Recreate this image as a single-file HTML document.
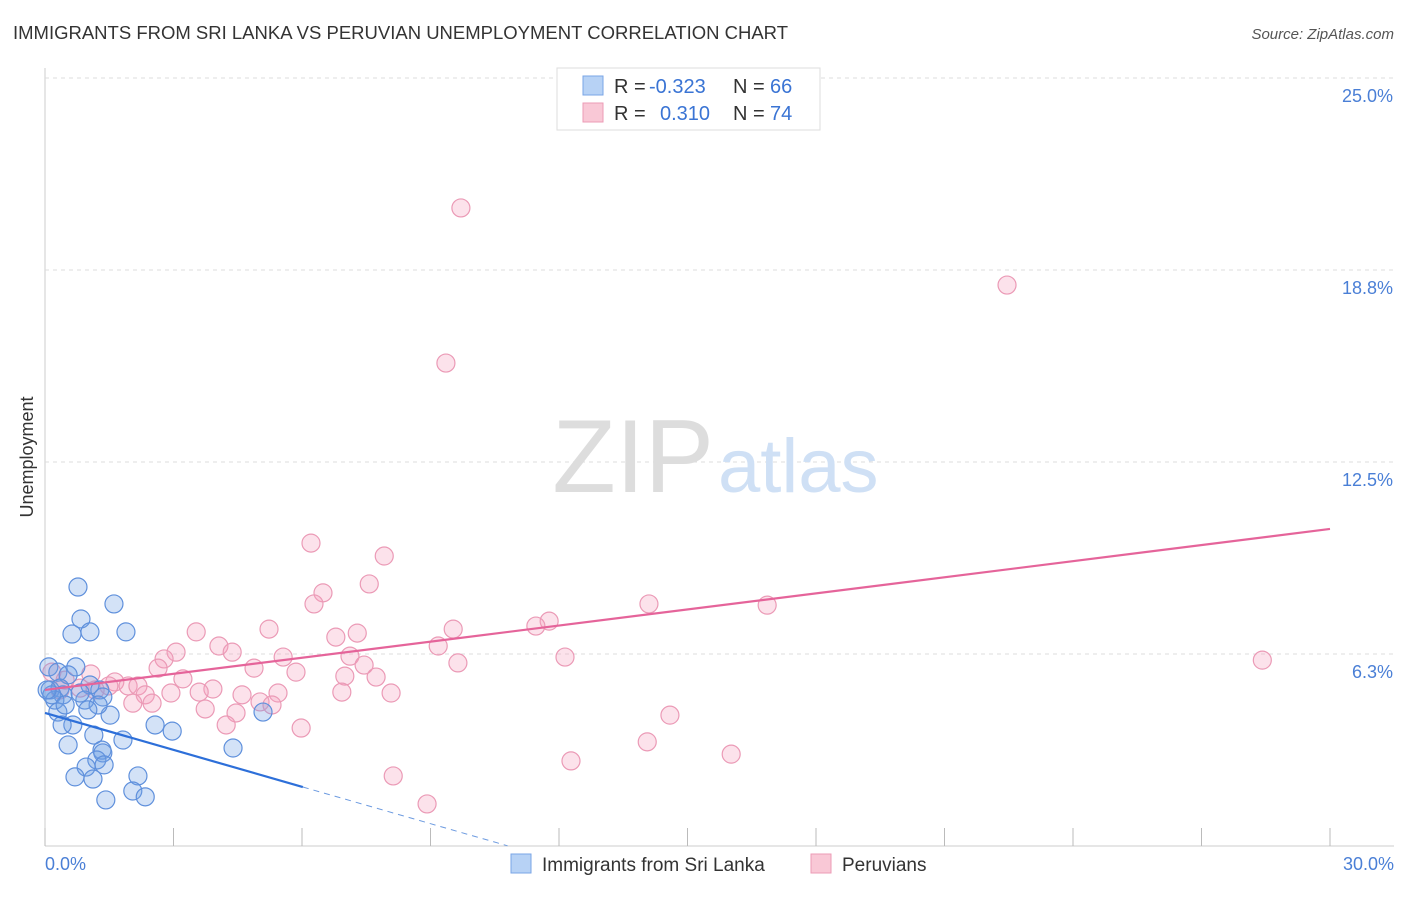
<!DOCTYPE html>
<html><head><meta charset="utf-8"><style>
body{margin:0;background:#fff;font-family:"Liberation Sans",sans-serif}
svg text{font-family:"Liberation Sans",sans-serif}
</style></head><body>
<svg width="1406" height="892" xmlns="http://www.w3.org/2000/svg">
<text x="13" y="39" font-size="18.5" fill="#333" textLength="775" lengthAdjust="spacingAndGlyphs">IMMIGRANTS FROM SRI LANKA VS PERUVIAN UNEMPLOYMENT CORRELATION CHART</text>
<text x="1394" y="39" font-size="15" fill="#555" text-anchor="end" font-style="italic">Source: ZipAtlas.com</text>
<g id="grid"></g>
<text x="714" y="492" font-size="104" fill="#ddd" text-anchor="end" font-family="Liberation Serif">ZIP</text>
<text x="718" y="492" font-size="76" fill="#cfe0f5">atlas</text>
<g id="pts"></g>
<g id="lines"></g>
<text transform="translate(33,457) rotate(-90)" font-size="18" fill="#333" text-anchor="middle">Unemployment</text>
<text x="45" y="870" font-size="18" fill="#4a7fd6">0.0%</text>
<text x="1394" y="870" font-size="18" fill="#4a7fd6" text-anchor="end">30.0%</text>
<g>
<rect x="557" y="68" width="263" height="62" fill="#fff" stroke="#ddd"/>
<rect x="583" y="76" width="20" height="19" fill="#b7d2f5" stroke="#7aa5e6"/>
<rect x="583" y="103" width="20" height="19" fill="#f9c8d6" stroke="#ec9bb6"/>
<text x="614" y="93" font-size="20" fill="#333">R = <tspan x="649" fill="#3a74d4">-0.323</tspan><tspan x="733">N = </tspan><tspan x="770" fill="#3a74d4">66</tspan></text>
<text x="614" y="120" font-size="20" fill="#333">R = <tspan x="660" fill="#3a74d4">0.310</tspan><tspan x="733">N = </tspan><tspan x="770" fill="#3a74d4">74</tspan></text>
</g>
<g>
<rect x="511" y="854" width="20" height="19" fill="#b7d2f5" stroke="#7aa5e6"/>
<text x="542" y="871" font-size="19" fill="#333">Immigrants from Sri Lanka</text>
<rect x="811" y="854" width="20" height="19" fill="#f9c8d6" stroke="#ec9bb6"/>
<text x="842" y="871" font-size="19" fill="#333">Peruvians</text>
</g>
</svg>
<script>
const yTicks=[6.25,12.5,18.75,25];
const yTickLabels=["6.3%","12.5%","18.8%","25.0%"];
const xTicks=[0,3,6,9,12,15,18,21,24,27,30];
const blueX=[0.77,1.61,0.84,0.63,1.05,1.89,0.09,0.72,0.30,0.54,0.12,0.35,0.42,1.05,1.28,0.23,0.93,1.35,1.52,0.30,0.65,0.40,1.14,1.82,0.54,2.57,2.97,4.39,5.09,1.33,1.35,1.21,0.96,1.38,0.70,1.12,2.17,2.05,2.34,1.42,0.16,0.05,0.47,0.82,1.24,1.00];
const blueY=[8.43,7.88,7.39,6.90,6.97,6.97,5.83,5.83,5.66,5.57,5.08,5.14,4.92,5.24,5.08,4.75,4.75,4.85,4.26,4.36,3.94,3.94,3.61,3.45,3.29,3.94,3.74,3.19,4.36,3.12,3.03,2.80,2.57,2.64,2.25,2.18,2.28,1.79,1.60,1.50,4.92,5.08,4.59,4.98,4.59,4.43];
const pinkX=[9.71,22.46,9.36,6.21,7.92,6.49,7.57,6.28,11.77,11.46,14.10,16.86,9.53,3.53,5.23,6.79,7.29,4.06,3.06,4.37,9.18,2.78,7.12,7.45,2.64,5.56,4.88,5.86,12.14,9.64,28.42,7.00,7.73,1.07,1.63,1.94,2.17,3.22,1.49,3.92,3.60,2.34,2.94,4.60,5.44,6.93,8.08,2.50,2.05,3.74,4.46,5.02,5.30,4.23,5.98,14.59,14.06,16.02,12.28,8.13,8.92,0.16,0.47,0.82,1.17,0.35];
const pinkY=[20.77,18.26,15.72,9.86,9.44,8.24,8.53,7.88,7.32,7.16,7.88,7.84,7.06,6.97,7.06,6.80,6.93,6.51,6.31,6.31,6.51,6.09,6.18,5.89,5.79,6.15,5.79,5.66,6.15,5.96,6.05,5.53,5.50,5.60,5.34,5.21,5.21,5.44,5.21,5.11,5.01,4.92,4.98,4.92,4.98,5.01,4.98,4.65,4.65,4.46,4.33,4.69,4.59,3.94,3.84,4.26,3.39,2.99,2.77,2.28,1.37,5.66,5.40,5.14,5.08,5.08];
const pinkTrend=[5.08,10.32];
const blueTrend=[4.33,1.92];
const blueTrendEnd=[6.02,10.8];
const X=v=>45+v/30*1285, Y=v=>846-v*30.72;
const NS="http://www.w3.org/2000/svg";
function mk(t,a,p){const e=document.createElementNS(NS,t);for(const k in a)e.setAttribute(k,a[k]);p.appendChild(e);return e;}
const grid=document.getElementById('grid');
mk('line',{x1:45,y1:68,x2:45,y2:846,stroke:'#ccc'},grid);
mk('line',{x1:45,y1:846,x2:1394,y2:846,stroke:'#ccc'},grid);
yTicks.forEach((t,i)=>{
 const l=mk('line',{x1:45,y1:Y(t),x2:1394,y2:Y(t),stroke:'#ddd','stroke-dasharray':'4,4'},grid);
 
 
 const tx=mk('text',{x:1393,y:Y(t)+24,'font-size':18,fill:'#4a7fd6','text-anchor':'end'},grid);
 tx.textContent=yTickLabels[i];
 
 
});
xTicks.forEach(t=>{
 const l=mk('line',{x1:X(t),y1:828,x2:X(t),y2:846,stroke:'#bbb'},grid);
 
 
});
const pts=document.getElementById('pts');
pinkX.forEach((x,i)=>{
 const c=mk('circle',{cx:X(x),cy:Y(pinkY[i]),r:9,fill:'rgba(244,160,188,0.3)',stroke:'#eb9ab6','stroke-width':1.2},pts);
 
 
});
blueX.forEach((x,i)=>{
 const c=mk('circle',{cx:X(x),cy:Y(blueY[i]),r:9,fill:'rgba(110,160,230,0.3)',stroke:'#5f90dc','stroke-width':1.2},pts);
 
 
});
const ln=document.getElementById('lines');
const pl=mk('line',{x1:X(0),y1:Y(pinkTrend[0]),x2:X(30),y2:Y(pinkTrend[1]),stroke:'#e5649a','stroke-width':2.2},ln);


const slope=(blueTrend[1]-blueTrend[0])/blueTrendEnd[0];
const bl=mk('line',{x1:X(0),y1:Y(blueTrend[0]),x2:X(blueTrendEnd[0]),y2:Y(blueTrend[1]),stroke:'#2d6fd9','stroke-width':2.2},ln);


const endY=Math.max(0,blueTrend[0]+slope*blueTrendEnd[1]);
const bd=mk('line',{x1:X(blueTrendEnd[0]),y1:Y(blueTrend[1]),x2:X(blueTrendEnd[1]),y2:Y(endY),stroke:'#6d9be0','stroke-width':1,'stroke-dasharray':'6,5'},ln);


</script>
</body></html>
